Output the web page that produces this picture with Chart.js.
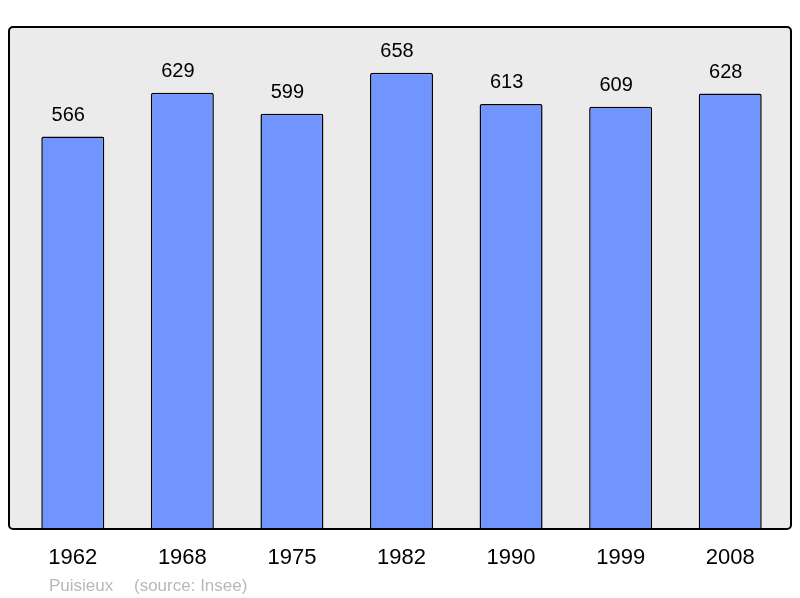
<!DOCTYPE html>
<html>
<head>
<meta charset="utf-8">
<script src="https://cdn.jsdelivr.net/npm/chart.js@4/dist/chart.umd.min.js"></script>
<style>
html,body{margin:0;padding:0;background:#fff;}
#wrap{width:800px;height:598px;position:relative;}
</style>
</head>
<body>
<div id="wrap"><canvas id="c" width="800" height="598"></canvas></div>
<script>
const years = ['1962','1968','1975','1982','1990','1999','2008'];
const population = [566,629,599,658,613,609,628];
const yMax = 724;
const placeName = 'Puisieux';
const sourceText = '(source: Insee)';

const FONT = '"Liberation Sans", Arial, sans-serif';

const framePlugin = {
  id: 'frame',
  beforeDatasetsDraw(chart) {
    const {ctx, chartArea} = chart;
    const x0 = chartArea.left - 9, x1 = chartArea.right + 6;
    const y0 = chartArea.top, y1 = chartArea.bottom;
    ctx.save();
    ctx.beginPath();
    ctx.roundRect(x0, y0, x1 - x0, y1 - y0, 4);
    ctx.fillStyle = '#ebebeb';
    ctx.fill();
    ctx.restore();
  },
  afterDatasetsDraw(chart) {
    const {ctx, chartArea} = chart;
    const x0 = chartArea.left - 9, x1 = chartArea.right + 6;
    const y0 = chartArea.top, y1 = chartArea.bottom;
    ctx.save();
    ctx.beginPath();
    ctx.roundRect(x0, y0, x1 - x0, y1 - y0, 4);
    ctx.lineWidth = 2;
    ctx.strokeStyle = '#000';
    ctx.stroke();
    // value labels
    const meta = chart.getDatasetMeta(0);
    ctx.fillStyle = '#000';
    ctx.font = '20px ' + FONT;
    ctx.textAlign = 'center';
    ctx.textBaseline = 'middle';
    meta.data.forEach((bar, i) => {
      ctx.fillText(String(chart.data.datasets[0].data[i]), bar.x - 4.5, bar.y - 21);
    });
    // footer
    ctx.fillStyle = '#b8b8b8';
    ctx.font = '17px ' + FONT;
    ctx.textAlign = 'left';
    ctx.fillText(placeName, 49, 586);
    ctx.fillText(sourceText, 134, 586);
    ctx.restore();
  }
};

new Chart(document.getElementById('c'), {
  type: 'bar',
  data: {
    labels: years,
    datasets: [{
      data: population,
      backgroundColor: '#7095ff',
      borderColor: '#000',
      borderWidth: 1.5,
      borderRadius: 2,
      borderSkipped: 'bottom',
      barPercentage: 0.575,
      categoryPercentage: 1
    }]
  },
  options: {
    responsive: false,
    animation: false,
    devicePixelRatio: 1,
    layout: { padding: { left: 18, right: 15, top: 27, bottom: 0 } },
    plugins: { legend: { display: false }, tooltip: { enabled: false } },
    scales: {
      x: {
        offset: true,
        grid: { display: false, drawTicks: false },
        border: { display: false },
        ticks: { color: '#000', font: { family: FONT, size: 22 }, padding: 16 },
        afterFit(scale) { scale.height = 69; }
      },
      y: {
        display: false,
        min: 0,
        max: yMax
      }
    }
  },
  plugins: [framePlugin]
});
</script>
</body>
</html>
